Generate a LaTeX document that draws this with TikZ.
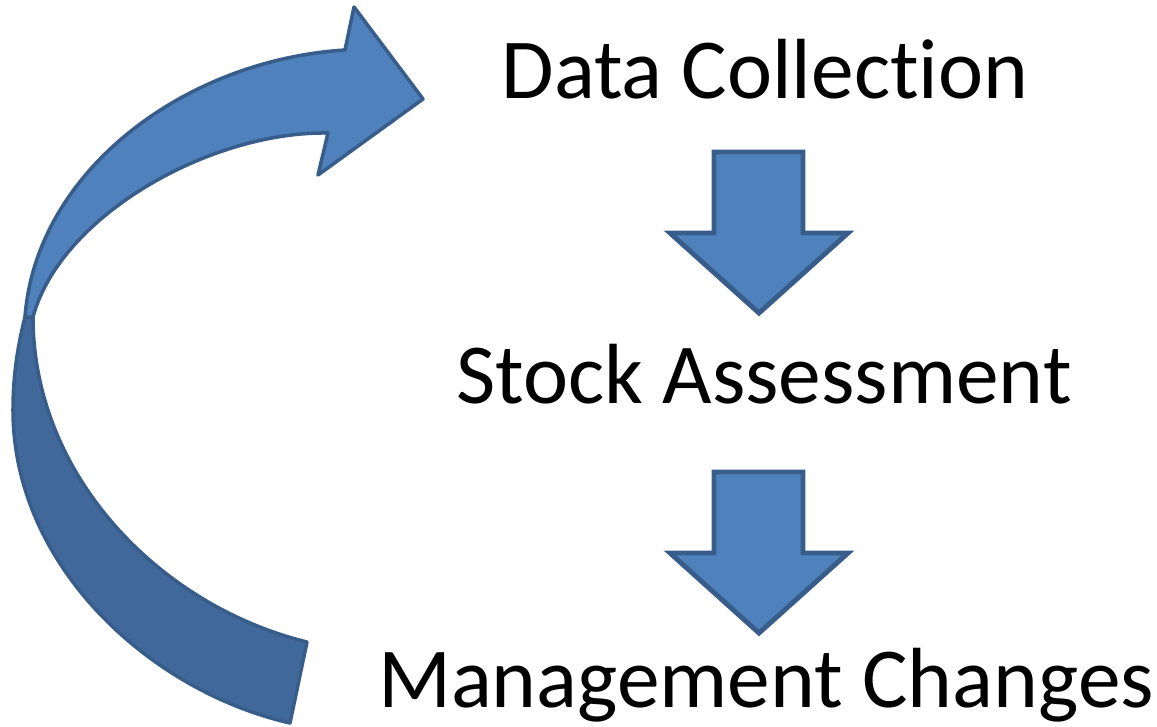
\documentclass[tikz,border=0pt]{standalone}
\usepackage{fontspec}
\setmainfont{Carlito}[RawFeature={-liga}]

\definecolor{faceblue}{RGB}{79,129,189}
\definecolor{backblue}{RGB}{64,104,154}
\definecolor{edgeblue}{RGB}{56,93,138}

\tikzset{
    front/.style={fill=faceblue, draw=edgeblue, line width=1pt, line join=round},
    back/.style={fill=backblue, draw=edgeblue, line width=1pt, line join=round},
    block/.style={fill=faceblue, draw=edgeblue, line width=1.4pt, line join=miter},
    stage/.style={font=\fontsize{24.3}{29}\selectfont, anchor=base, inner sep=0pt}
}

\begin{document}
\begin{tikzpicture}
        \useasboundingbox (0, 0) rectangle (11.57, 7.26);

        %%draw the stages
        \node[stage] (data) at(7.65, 6.28){Data Collection};
        \node[stage] (stock) at(7.64, 3.23){Stock Assessment};
        \node[stage] (mgmt) at(7.66, 0.19){Management Changes};

        %%draw the arrows between them
        \draw[block] (7.14, 5.74) -- (8.03, 5.74) -- (8.03, 4.93) -- (8.48, 4.93)
            -- (7.59, 4.13) -- (6.70, 4.93) -- (7.14, 4.93) -- cycle;
        \draw[block] (7.14, 2.54) -- (8.03, 2.54) -- (8.03, 1.73) -- (8.48, 1.73)
            -- (7.59, 0.93) -- (6.70, 1.73) -- (7.14, 1.73) -- cycle;

        %%draw the loop back, dark part first
        \draw[back] (2.90, 0.03) .. controls (1.50, 0.35) and (0.13, 1.60) .. (0.13, 3.16)
            .. controls (0.13, 3.55) and (0.19, 3.85) .. (0.25, 4.09)
            -- (0.33, 4.09)
            .. controls (0.33, 2.50) and (1.60, 1.20) .. (3.07, 0.84) -- cycle;
        \draw[front] (0.25, 4.09) .. controls (0.36, 5.55) and (1.85, 6.66) .. (3.45, 6.76)
            -- (3.54, 7.19) -- (4.23, 6.27) -- (3.18, 5.51) -- (3.28, 5.93)
            .. controls (2.10, 5.95) and (0.60, 5.10) .. (0.33, 4.09) -- cycle;

    \end{tikzpicture}
\end{document}
